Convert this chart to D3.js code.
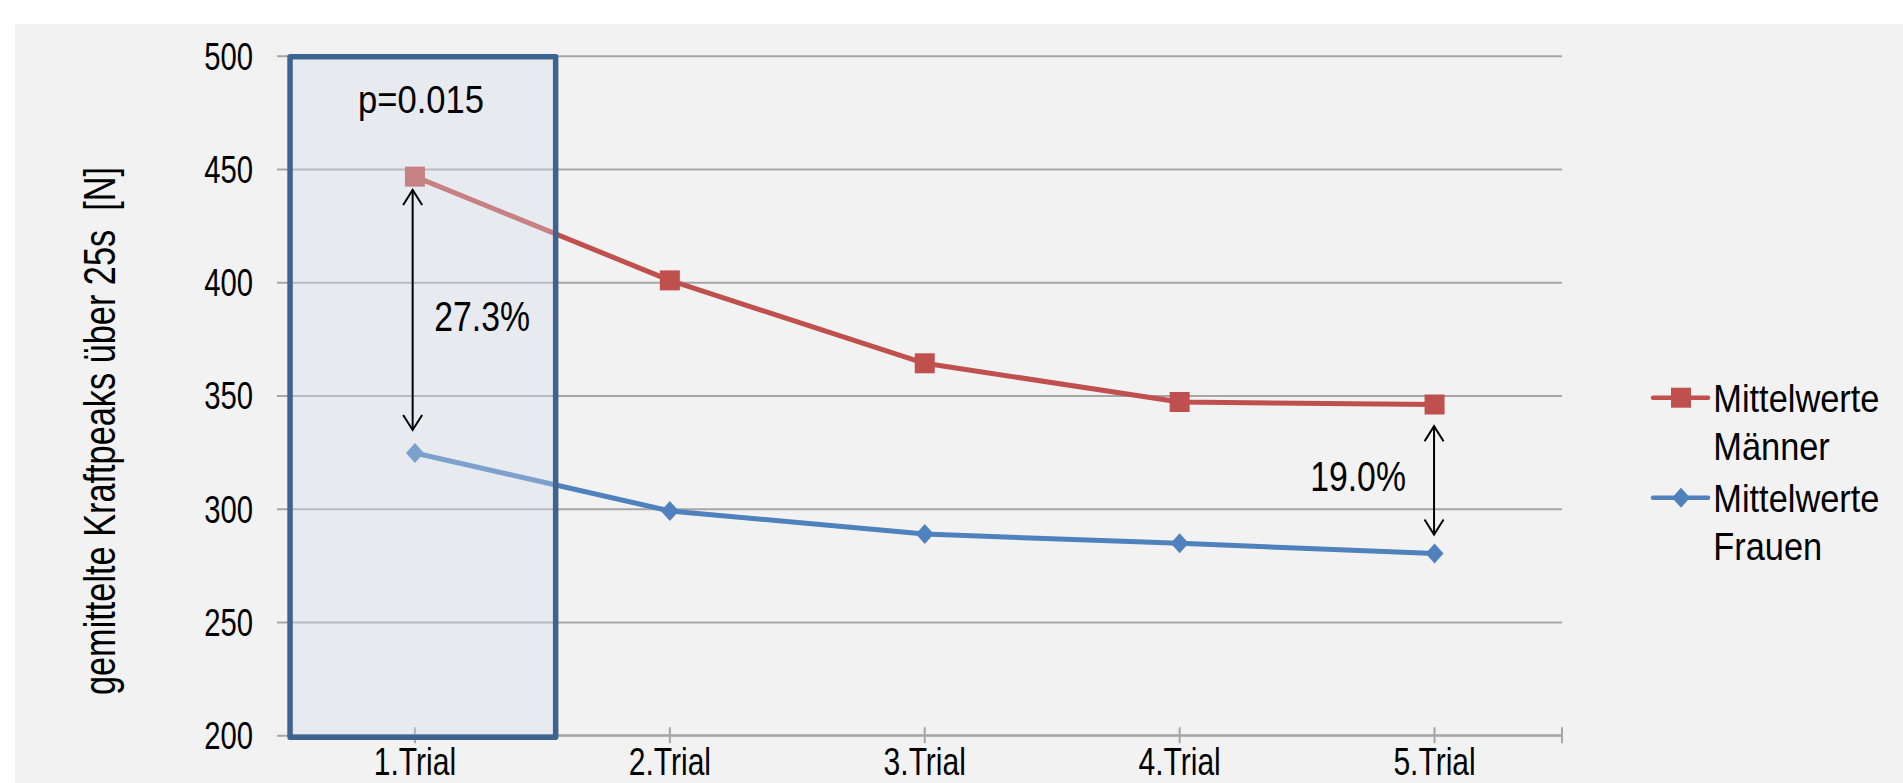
<!DOCTYPE html>
<html>
<head>
<meta charset="utf-8">
<script src="https://cdn.jsdelivr.net/npm/d3@7"></script>
<style>
  body { margin: 0; background: #ffffff; }
  text { font-family: "Liberation Sans", Arial, Helvetica, sans-serif; fill: #000; white-space: pre; }
</style>
</head>
<body>
<svg id="chart" width="1903" height="783"></svg>
<script>
// ---- data ----
const trials = ["1.Trial", "2.Trial", "3.Trial", "4.Trial", "5.Trial"];
const maenner = [446.6, 400.8, 364.2, 347.1, 346.0];
const frauen  = [324.6, 299.0, 288.8, 284.7, 280.2];
const yTicks = [200, 250, 300, 350, 400, 450, 500];
const legendMaenner = ["Mittelwerte", "Männer"];
const legendFrauen  = ["Mittelwerte", "Frauen"];
const yTitle = "gemittelte Kraftpeaks über 25s  [N]";
const pText = "p=0.015";
const diffTrials = ["1.Trial", "5.Trial"];
const diffTexts = ["27.3%", "19.0%"];

// ---- layout ----
const W = 1903, H = 783;
const plot = { left: 287.5, right: 1562, top: 55.7, bottom: 735.2 };
const RED = "#c0504d", BLUE = "#4f81bd";
const GRID = "#a6a6a6";

const svg = d3.select("#chart");

// chart area background
svg.append("rect")
  .attr("x", 15).attr("y", 24)
  .attr("width", W - 15).attr("height", H - 24)
  .attr("fill", "#f2f2f2");

const x = d3.scaleBand().domain(trials).range([plot.left, plot.right]).padding(0);
const cx = d => x(d) + x.bandwidth() / 2;
const y = d3.scaleLinear().domain([200, 500]).range([plot.bottom, plot.top]);

// horizontally condensed text placed at (px, py)
function label(parent, px, py, str, size, k, anchor) {
  return parent.append("g")
    .attr("transform", `translate(${px},${py}) scale(${k},1)`)
    .append("text")
    .attr("text-anchor", anchor || "middle")
    .style("font-size", size + "px")
    .text(str);
}

// ---- y axis with gridlines ----
const plotW = plot.right - plot.left;
const yAxis = svg.append("g")
  .attr("transform", `translate(${plot.left},0)`)
  .call(d3.axisLeft(y).tickValues(yTicks).tickSize(-plotW).tickPadding(34.5));
yAxis.select(".domain").remove();
yAxis.selectAll(".tick line")
  .attr("x1", -10.5)
  .attr("stroke", GRID).attr("stroke-width", 2);
const kTick = 0.77;
yAxis.selectAll(".tick text")
  .attr("x", -34.5 / kTick)
  .attr("transform", `scale(${kTick},1)`)
  .attr("dy", "0.35em")
  .style("font-size", "38px")
  .style("font-family", '"Liberation Sans", Arial, sans-serif')
  .attr("fill", "#000");

// ---- x axis ----
const xAxis = svg.append("g")
  .attr("transform", `translate(0,${plot.bottom})`)
  .call(d3.axisBottom(x).tickSize(8).tickPadding(0));
xAxis.select(".domain")
  .attr("d", `M${plot.left},0H${plot.right}`)
  .attr("stroke", GRID).attr("stroke-width", 2);
xAxis.selectAll(".tick line")
  .attr("y1", -8).attr("y2", 8)
  .attr("stroke", GRID).attr("stroke-width", 2);
const kX = 0.79;
xAxis.selectAll(".tick text")
  .attr("transform", `scale(${kX},1)`)
  .attr("y", 39.5).attr("dy", "0")
  .style("font-size", "38px")
  .style("font-family", '"Liberation Sans", Arial, sans-serif')
  .attr("fill", "#000");
// closing tick at the right end of the category axis
xAxis.append("line")
  .attr("x1", plot.right).attr("x2", plot.right)
  .attr("y1", -8).attr("y2", 8)
  .attr("stroke", GRID).attr("stroke-width", 2);

// y axis title
svg.append("g")
  .attr("transform", `translate(115,431) rotate(-90) scale(0.78,1)`)
  .append("text")
  .attr("text-anchor", "middle")
  .attr("xml:space", "preserve")
  .style("font-size", "44px")
  .text(yTitle);

// ---- series ----
const line = d3.line().x((d, i) => cx(trials[i])).y(d => y(d));
const squarePath = "M-10,-10H10V10H-10Z";
const diamondPath = "M0,-10L9,0L0,10L-9,0Z";

function drawSeries(values, color, shape) {
  const g = svg.append("g");
  g.append("path")
    .datum(values)
    .attr("d", line)
    .attr("fill", "none")
    .attr("stroke", color)
    .attr("stroke-width", 5)
    .attr("stroke-linejoin", "round");
  g.selectAll("path.marker")
    .data(values)
    .join("path")
    .attr("class", "marker")
    .attr("d", shape)
    .attr("transform", (d, i) => `translate(${cx(trials[i])},${y(d)})`)
    .attr("fill", color);
}
drawSeries(maenner, RED, squarePath);
drawSeries(frauen, BLUE, diamondPath);

// ---- highlight box around the first trial ----
const boxLeft = x(trials[0]) + 0.01 * x.bandwidth();
const boxRight = x(trials[0]) + 1.052 * x.bandwidth();
svg.append("rect")
  .attr("x", boxLeft).attr("y", y(500) + 1)
  .attr("width", boxRight - boxLeft)
  .attr("height", y(200) - y(500) + 1)
  .attr("fill", "rgb(213,222,236)").attr("fill-opacity", 0.35)
  .attr("stroke", "#3d6491").attr("stroke-width", 5.5)
  .attr("stroke-linejoin", "round");

label(svg, cx(trials[0]) + 6, 113.3, pText, 39, 0.887);

// ---- difference arrows ----
const arrowSpecs = [
  { trial: diffTrials[0], dx: -2.3, gapTop: 3.3, gapBottom: 13, text: diffTexts[0], tdx: 69.5, tdy: 20.7 },
  { trial: diffTrials[1], dx: -0.5, gapTop: 11.7, gapBottom: 9, text: diffTexts[1], tdx: -76, tdy: 10.6 }
];
arrowSpecs.forEach(a => {
  const i = trials.indexOf(a.trial);
  const ax = cx(a.trial) + a.dx;
  const yTop = y(maenner[i]) + 10 + a.gapTop;
  const yBot = y(frauen[i]) - 10 - a.gapBottom;
  const g = svg.append("g")
    .attr("fill", "none").attr("stroke", "#000").attr("stroke-width", 2);
  g.append("path").attr("d", `M${ax},${yTop}V${yBot}`);
  g.append("path").attr("d", `M${ax - 9.5},${yTop + 15}L${ax},${yTop}L${ax + 9.5},${yTop + 15}`);
  g.append("path").attr("d", `M${ax - 9.5},${yBot - 15}L${ax},${yBot}L${ax + 9.5},${yBot - 15}`);
  label(svg, ax + a.tdx, (yTop + yBot) / 2 + a.tdy, a.text, 43, 0.785);
});

// ---- legend ----
const legend = svg.append("g");
const legendItems = [
  { lines: legendMaenner, color: RED, shape: squarePath, y: 397.7 },
  { lines: legendFrauen, color: BLUE, shape: diamondPath, y: 497.7 }
];
legendItems.forEach(item => {
  legend.append("line")
    .attr("x1", 1653).attr("x2", 1708)
    .attr("y1", item.y).attr("y2", item.y)
    .attr("stroke", item.color).attr("stroke-width", 4.5)
    .attr("stroke-linecap", "round");
  legend.append("path")
    .attr("d", item.shape)
    .attr("transform", `translate(1681,${item.y})`)
    .attr("fill", item.color);
  item.lines.forEach((t, j) => {
    label(legend, 1713.3, item.y + 14 + j * 48.5, t, 39.5, 0.87, "start");
  });
});
</script>
</body>
</html>
